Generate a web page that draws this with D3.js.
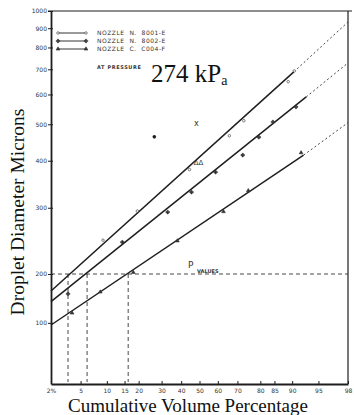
<!DOCTYPE html>
<html>
<head>
<meta charset="utf-8">
<script src="https://cdn.jsdelivr.net/npm/d3@7"></script>
<style>
  body { margin: 0; background: #fff; }
  svg { display: block; }
  .tick text { font-family: "DejaVu Sans", sans-serif; fill: #333; }
</style>
</head>
<body>
<svg id="chart" width="354" height="415"></svg>
<script>
// cumulative volume percentage ticks (probability scale)
var xTicks = [2, 5, 10, 15, 20, 30, 40, 50, 60, 70, 80, 85, 90, 95, 98];
var xTickLabels = ["2%", "5", "10", "15", "20", "30", "40", "50", "60", "70", "80", "85", "90", "95", "98"];
// droplet diameter ticks (log scale)
var yTicks = [100, 200, 300, 400, 500, 600, 700, 800, 900, 1000];

var seriesNames = ["NOZZLE  N.  8001-E", "NOZZLE  N.  8002-E", "NOZZLE  C.  C004-F"];

// fitted lines: solid part, then dotted extension  [percent, microns]
var fitSolid = [
  [[2, 157], [90.4, 689]],
  [[2, 135], [93, 591]],
  [[2, 97], [92.5, 414]]
];
var fitDotted = [
  [[90.4, 689], [98, 935]],
  [[93, 591], [98, 728]],
  [[92.5, 414], [98, 505]]
];

// measured points
var pointsA = [[9.1, 246], [19.5, 294], [44.5, 379], [66, 466], [73, 511], [89, 649], [90.5, 693]];
var pointsB = [[3.45, 151], [14.3, 243], [33, 292], [45.6, 330], [58.8, 373], [72.5, 414], [79.4, 462], [84.5, 507], [90.9, 556]];
var pointsC = [[3.9, 115], [8.5, 155], [18, 202], [38, 245], [63, 293], [75, 333], [92, 420]];
var deltaPoint = [49.5, 397];
var crossPoint = [48.3, 504];
var dotPoint = [26.6, 463];

// "P values": diameter 200 crossing of each line
var pLevel = 200;
var pValues = [3.45, 6.0, 16.2];

function probit(p) {
  var a = [-3.969683028665376e+01, 2.209460984245205e+02, -2.759285104469687e+02, 1.383577518672690e+02, -3.066479806614716e+01, 2.506628277459239e+00];
  var b = [-5.447609879822406e+01, 1.615858368580409e+02, -1.556989798598866e+02, 6.680131188771972e+01, -1.328068155288572e+01];
  var c = [-7.784894002430293e-03, -3.223964580411365e-01, -2.400758277161838e+00, -2.549732539343734e+00, 4.374664141464968e+00, 2.938163982698783e+00];
  var d = [7.784695709041462e-03, 3.224671290700398e-01, 2.445134137142996e+00, 3.754408661907416e+00];
  var pl = 0.02425, q, r;
  if (p < pl) {
    q = Math.sqrt(-2 * Math.log(p));
    return (((((c[0]*q+c[1])*q+c[2])*q+c[3])*q+c[4])*q+c[5]) / ((((d[0]*q+d[1])*q+d[2])*q+d[3])*q+1);
  }
  if (p > 1 - pl) {
    q = Math.sqrt(-2 * Math.log(1 - p));
    return -(((((c[0]*q+c[1])*q+c[2])*q+c[3])*q+c[4])*q+c[5]) / ((((d[0]*q+d[1])*q+d[2])*q+d[3])*q+1);
  }
  q = p - 0.5; r = q * q;
  return (((((a[0]*r+a[1])*r+a[2])*r+a[3])*r+a[4])*r+a[5])*q / (((((b[0]*r+b[1])*r+b[2])*r+b[3])*r+b[4])*r+1);
}

var plotLeft = 51, plotRight = 348, plotTop = 11, plotBottom = 384;

const svg = d3.select('#chart');

const xz = d3.scaleLinear()
  .domain([probit(0.02), probit(0.98)])
  .range([plotLeft, plotRight]);
const x = p => xz(probit(p / 100));

// the paper's lower cycle is squeezed below 200
const y = d3.scaleLog()
  .domain([42, 200, 1000])
  .range([plotBottom, 274, plotTop]);

const ink = '#1e1e1e';

// frame
svg.append('line').attr('x1', plotLeft - 3).attr('x2', plotRight + 4).attr('y1', plotTop).attr('y2', plotTop)
  .attr('stroke', ink).attr('stroke-width', 1.2);
svg.append('line').attr('x1', plotRight).attr('x2', plotRight).attr('y1', plotTop).attr('y2', plotBottom)
  .attr('stroke', ink).attr('stroke-width', 1.2);

// axes
const yAxis = d3.axisLeft(y)
  .tickValues(yTicks)
  .tickFormat(d3.format('d'))
  .tickSizeInner(3)
  .tickSizeOuter(0)
  .tickPadding(1);
const gy = svg.append('g').attr('transform', `translate(${plotLeft},0)`).call(yAxis);
gy.select('.domain').attr('stroke', ink).attr('stroke-width', 1.8);
gy.selectAll('.tick line').attr('stroke', ink).attr('x2', 2).attr('x1', -3);
gy.selectAll('.tick text').style('font-size', '6px');

const xAxis = d3.axisBottom(xz)
  .tickValues(xTicks.map(p => probit(p / 100)))
  .tickFormat((d, i) => xTickLabels[i])
  .tickSizeInner(-3)
  .tickSizeOuter(0)
  .tickPadding(5);
const gx = svg.append('g').attr('transform', `translate(0,${plotBottom})`).call(xAxis);
gx.select('.domain').attr('stroke', ink).attr('stroke-width', 1.8);
gx.selectAll('.tick line').attr('stroke', ink);
gx.selectAll('.tick text').style('font-size', '6px');

// P value guide lines
const guide = svg.append('g')
  .attr('stroke', '#333')
  .attr('stroke-width', 0.9)
  .attr('stroke-dasharray', '4,3');
guide.append('line')
  .attr('x1', x(2)).attr('x2', x(98))
  .attr('y1', y(pLevel)).attr('y2', y(pLevel));
guide.selectAll('.pv')
  .data(pValues)
  .enter().append('line')
  .attr('x1', d => x(d)).attr('x2', d => x(d))
  .attr('y1', y(pLevel)).attr('y2', plotBottom - 2);

svg.append('text')
  .attr('x', 188).attr('y', 268)
  .style('font-family', '"DejaVu Sans", sans-serif')
  .style('font-size', '9px').attr('fill', '#333')
  .text('P');
svg.append('text')
  .attr('x', 197).attr('y', 273)
  .style('font-family', '"DejaVu Sans", sans-serif')
  .style('font-size', '5px').style('font-weight', 'bold').attr('fill', '#333')
  .text('VALUES');

// fitted lines
const line = d3.line().x(d => x(d[0])).y(d => y(d[1]));

svg.selectAll('.fit')
  .data(fitSolid)
  .enter().append('path')
  .attr('class', 'fit')
  .attr('d', line)
  .attr('fill', 'none')
  .attr('stroke', ink)
  .attr('stroke-width', 1.5);

svg.selectAll('.ext')
  .data(fitDotted)
  .enter().append('path')
  .attr('class', 'ext')
  .attr('d', line)
  .attr('fill', 'none')
  .attr('stroke', '#444')
  .attr('stroke-width', 1)
  .attr('stroke-dasharray', '2,2.5');

// point markers
const symA = d3.symbol().type(d3.symbolCircle).size(5);
const symB = d3.symbol().type(d3.symbolCross).size(7);
const symC = d3.symbol().type(d3.symbolTriangle).size(6);

function drawPoints(data, sym, fill) {
  svg.append('g').selectAll('path')
    .data(data)
    .enter().append('path')
    .attr('d', sym)
    .attr('transform', d => `translate(${x(d[0])},${y(d[1])})`)
    .attr('fill', fill)
    .attr('stroke', '#333')
    .attr('stroke-width', 0.6);
}
drawPoints(pointsA, symA, '#fff');
drawPoints(pointsB, symB, '#333');
drawPoints(pointsC, symC, '#333');

svg.append('text')
  .attr('x', x(deltaPoint[0])).attr('y', y(deltaPoint[1]) + 3)
  .attr('text-anchor', 'middle')
  .style('font-family', '"DejaVu Sans", sans-serif')
  .style('font-size', '7px').attr('fill', '#333')
  .text('\u0394\u0394');
svg.append('text')
  .attr('x', x(crossPoint[0])).attr('y', y(crossPoint[1]) + 3)
  .attr('text-anchor', 'middle')
  .style('font-family', '"DejaVu Sans", sans-serif')
  .style('font-size', '8px').attr('fill', '#333')
  .text('x');
svg.append('circle')
  .attr('cx', x(dotPoint[0])).attr('cy', y(dotPoint[1]))
  .attr('r', 1.8).attr('fill', ink);

// legend
const legendSyms = [symA, symB, symC];
const legendFill = ['#fff', '#333', '#333'];
const legend = svg.append('g');
seriesNames.forEach(function (name, i) {
  var ly = 33 + i * 8;
  legend.append('line')
    .attr('x1', 58).attr('x2', 86).attr('y1', ly).attr('y2', ly)
    .attr('stroke', ink).attr('stroke-width', 0.9);
  [58, 86].forEach(function (lx) {
    legend.append('path')
      .attr('d', legendSyms[i])
      .attr('transform', `translate(${lx},${ly})`)
      .attr('fill', legendFill[i]).attr('stroke', '#333').attr('stroke-width', 0.6);
  });
  legend.append('text')
    .attr('x', 97).attr('y', ly + 2)
    .style('font-family', '"DejaVu Sans", sans-serif')
    .style('font-size', '6px')
    .style('letter-spacing', '0.5px')
    .attr('fill', '#333')
    .attr('xml:space', 'preserve')
    .text(name);
});

legend.append('text')
  .attr('x', 97).attr('y', 69)
  .style('font-family', '"DejaVu Sans", sans-serif')
  .style('font-size', '5px').style('font-weight', 'bold')
  .style('letter-spacing', '0.6px')
  .attr('fill', '#333')
  .text('AT PRESSURE');

const pres = svg.append('text')
  .attr('x', 151).attr('y', 82)
  .style('font-family', '"Liberation Serif", serif')
  .style('font-size', '25px')
  .attr('fill', '#111');
pres.append('tspan').text('274 kP');
pres.append('tspan').attr('dy', 3).style('font-size', '14px').text('a');

// axis titles
svg.append('text')
  .attr('x', 188).attr('y', 412)
  .attr('text-anchor', 'middle')
  .style('font-family', '"Liberation Serif", serif')
  .style('font-size', '19px')
  .attr('fill', '#111')
  .text('Cumulative Volume Percentage');

svg.append('text')
  .attr('transform', 'translate(24,212) rotate(-90)')
  .attr('text-anchor', 'middle')
  .style('font-family', '"Liberation Serif", serif')
  .style('font-size', '19.5px')
  .attr('fill', '#111')
  .text('Droplet Diameter Microns');
</script>
</body>
</html>
